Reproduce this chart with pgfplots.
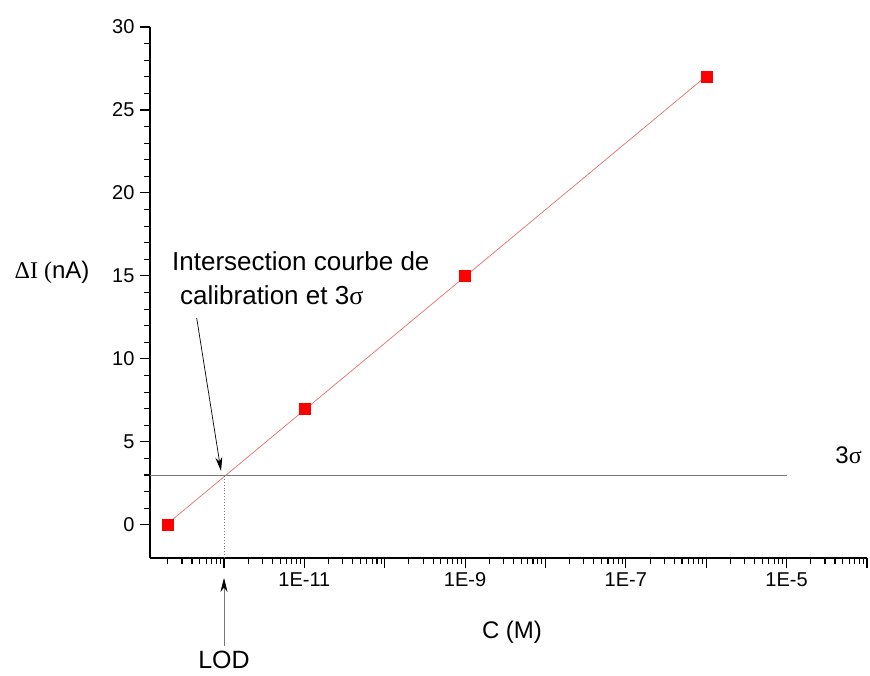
\documentclass[border=0pt]{standalone}
\usepackage{pgfplots}
\pgfplotsset{compat=1.18}
\usepackage{fontspec}
\setmainfont{Liberation Sans}
\newfontfamily\seriffont{Liberation Serif}
\usetikzlibrary{arrows.meta}
\definecolor{fitred}{RGB}{228,110,110}
\definecolor{ref}{RGB}{120,120,120}
\begin{document}
\begin{tikzpicture}
\useasboundingbox (-150pt,-117pt) rectangle (720pt,558pt);
\begin{axis}[
  at={(0pt,0pt)}, anchor=south west,
  width=717pt, height=531pt, scale only axis,
  xmode=log, xmin=1.2e-13, xmax=1e-4,
  ymin=-2, ymax=30,
  axis lines=left,
  axis line style={line width=1.3pt, -},
  tick align=outside,
  tick style={black, line width=1.1pt},
  major tick length=10pt, minor tick length=6pt,
  ytick={0,5,...,30}, minor y tick num=4,
  xtick={1e-12,1e-11,1e-10,1e-9,1e-8,1e-7,1e-6,1e-5,1e-4},
  xticklabels={,1E-11,,1E-9,,1E-7,,1E-5,},
  minor xtick={2e-13,3e-13,4e-13,5e-13,6e-13,7e-13,8e-13,9e-13,
    2e-12,3e-12,4e-12,5e-12,6e-12,7e-12,8e-12,9e-12,
    2e-11,3e-11,4e-11,5e-11,6e-11,7e-11,8e-11,9e-11,
    2e-10,3e-10,4e-10,5e-10,6e-10,7e-10,8e-10,9e-10,
    2e-9,3e-9,4e-9,5e-9,6e-9,7e-9,8e-9,9e-9,
    2e-8,3e-8,4e-8,5e-8,6e-8,7e-8,8e-8,9e-8,
    2e-7,3e-7,4e-7,5e-7,6e-7,7e-7,8e-7,9e-7,
    2e-6,3e-6,4e-6,5e-6,6e-6,7e-6,8e-6,9e-6,
    2e-5,3e-5,4e-5,5e-5,6e-5,7e-5,8e-5,9e-5},
  /pgf/number format/assume math mode=true,
  tick label style={font=\fontsize{20}{21}\selectfont, black},
  yticklabel style={xshift=-2pt},
  xticklabel style={yshift=-1pt},
  clip=false,
]
\addplot[fitred, line width=0.7pt] coordinates {(2e-13,0.08) (1e-6,27.04)};
\addplot[ref, line width=0.8pt] coordinates {(1.2e-13,3) (1e-5,3)};
\addplot[ref, dotted, line width=0.9pt] coordinates {(1e-12,-2) (1e-12,3)};
\addplot[only marks, mark=square*, mark size=5.5pt, mark options={solid, fill=red, draw=red}]
  coordinates {(2e-13,0) (1e-11,7) (1e-9,15) (1e-6,27)};
\node[font=\fontsize{24}{26}\selectfont] at (axis cs:5.9e-5,4.2) {3{\seriffont σ}};
\end{axis}
% axis labels
\node[font=\fontsize{24}{26}\selectfont] at (362pt,-74pt) {C (M)};
\node[font=\fontsize{24}{26}\selectfont] at (-98pt,286pt) {{\seriffont ΔI (}nA)};
% annotation
\node[anchor=west, font=\fontsize{26}{28}\selectfont, inner sep=0pt] at (22pt,297pt) {Intersection courbe de};
\node[anchor=west, font=\fontsize{26}{28}\selectfont, inner sep=0pt] at (30pt,263pt) {calibration et 3{\seriffont σ}};
\draw[line width=0.7pt, -{Stealth[length=14pt,width=7pt]}] (46.7pt,240pt) -- (71pt,87pt);
% LOD
\draw[ref, line width=0.7pt, -{Stealth[length=14pt,width=7pt,black]}] (74pt,-88pt) -- (74pt,-20pt);
\node[font=\fontsize{25}{27}\selectfont] at (74pt,-102pt) {LOD};
\end{tikzpicture}
\end{document}
